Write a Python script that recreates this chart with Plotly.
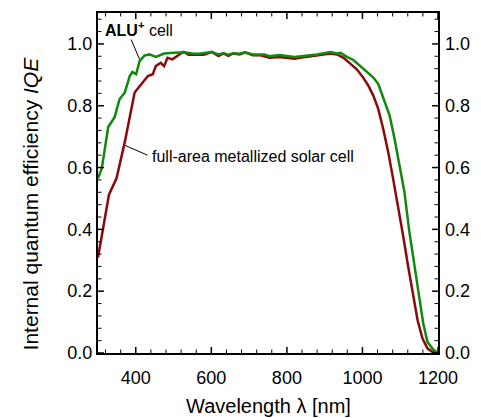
import plotly.graph_objects as go

# ALU+ cell (green)
alu_wl = [300, 310, 327, 344, 357, 371, 384, 391, 401, 410, 423, 436, 453, 475, 501, 527,
          550, 567, 601, 619, 632, 645, 658, 675, 689, 710, 740, 754, 780, 820, 850, 880,
          915, 933, 942, 959, 976, 994, 1011, 1029, 1042, 1055, 1072, 1085, 1098, 1111,
          1124, 1137, 1150, 1161, 1172, 1185, 1198]
alu_iqe = [0.565, 0.597, 0.731, 0.763, 0.821, 0.843, 0.896, 0.909, 0.902, 0.944, 0.962, 0.966,
           0.958, 0.969, 0.971, 0.973, 0.969, 0.968, 0.974, 0.966, 0.970, 0.965, 0.970, 0.968,
           0.973, 0.966, 0.966, 0.960, 0.964, 0.958, 0.962, 0.966, 0.974, 0.969, 0.971, 0.958,
           0.948, 0.928, 0.912, 0.891, 0.870, 0.827, 0.768, 0.693, 0.608, 0.522, 0.394, 0.287,
           0.180, 0.095, 0.036, 0.015, 0.001]

# full-area metallized solar cell (dark red)
full_wl = [300, 329, 349, 371, 397, 418, 432, 445, 453, 466, 475, 484, 497, 519, 527, 540,
           560, 580, 601, 619, 632, 645, 658, 675, 689, 710, 730, 754, 780, 820, 850, 880,
           915, 933, 950, 967, 985, 1002, 1016, 1029, 1042, 1055, 1068, 1081, 1094, 1107,
           1120, 1133, 1146, 1159, 1172, 1185, 1198]
full_iqe = [0.309, 0.512, 0.565, 0.683, 0.843, 0.875, 0.896, 0.902, 0.928, 0.939, 0.928, 0.955,
            0.950, 0.969, 0.974, 0.965, 0.965, 0.965, 0.974, 0.961, 0.969, 0.961, 0.969, 0.966,
            0.973, 0.963, 0.963, 0.955, 0.958, 0.952, 0.958, 0.962, 0.969, 0.966, 0.955, 0.937,
            0.918, 0.891, 0.864, 0.832, 0.789, 0.725, 0.651, 0.565, 0.480, 0.384, 0.287, 0.191,
            0.106, 0.047, 0.015, 0.004, 0.0]

x_ticks = [400, 600, 800, 1000, 1200]
y_ticks = [0.0, 0.2, 0.4, 0.6, 0.8, 1.0]
y_tick_text = ["0.0", "0.2", "0.4", "0.6", "0.8", "1.0"]
x_minor = [v for v in range(320, 1200, 40) if v % 200 != 0]
y_minor = [round(i * 0.04, 2) for i in range(1, 28) if i % 5 != 0]

X_RANGE = [300, 1200]
Y_RANGE = [0, 1.1]

GREEN = "#0f8a0f"
RED = "#8a0a0a"
FONT = "Liberation Sans, Arial, sans-serif"

W, H = 481, 418
M = dict(l=98, r=39, t=11, b=65)
# data units per screen pixel (for tick lengths)
ux = (X_RANGE[1] - X_RANGE[0]) / (W - M["l"] - M["r"])
uy = (Y_RANGE[1] - Y_RANGE[0]) / (H - M["t"] - M["b"])

fig = go.Figure()
fig.add_trace(go.Scatter(x=full_wl, y=full_iqe, mode="lines",
                         line=dict(color=RED, width=2.5), showlegend=False))
fig.add_trace(go.Scatter(x=alu_wl, y=alu_iqe, mode="lines",
                         line=dict(color=GREEN, width=2.5), showlegend=False))
# same series attached to the right-hand axis (transparent) so that axis is drawn
fig.add_trace(go.Scatter(x=alu_wl, y=alu_iqe, mode="lines", yaxis="y2",
                         line=dict(color="rgba(0,0,0,0)", width=0), showlegend=False,
                         hoverinfo="skip"))

fig.update_layout(
    width=W, height=H,
    margin=M,
    plot_bgcolor="white", paper_bgcolor="white",
    font=dict(family=FONT, color="black", size=18),
    xaxis=dict(range=X_RANGE, tickvals=x_ticks, ticklabelstandoff=7,
               showline=True, linecolor="black", linewidth=2, mirror=True,
               ticks="", showgrid=False, zeroline=False),
    yaxis=dict(range=Y_RANGE, tickvals=y_ticks, ticktext=y_tick_text,
               showline=True, linecolor="black", linewidth=2, mirror=True,
               ticks="", showgrid=False, zeroline=False),
    yaxis2=dict(range=Y_RANGE, tickvals=y_ticks, ticktext=y_tick_text,
                overlaying="y", side="right", anchor="x", ticklabelstandoff=6,
                showline=False, ticks="", showgrid=False, zeroline=False),
)

# inside tick marks on all four sides, in data coordinates at the tick values
def x_tick(v, length, width):
    for base, sign in ((Y_RANGE[0], 1), (Y_RANGE[1], -1)):
        fig.add_shape(type="line", xref="x", yref="y", x0=v, x1=v,
                      y0=base, y1=base + sign * length * uy,
                      line=dict(color="black", width=width))

def y_tick(v, length, width):
    for base, sign in ((X_RANGE[0], 1), (X_RANGE[1], -1)):
        fig.add_shape(type="line", xref="x", yref="y", y0=v, y1=v,
                      x0=base, x1=base + sign * length * ux,
                      line=dict(color="black", width=width))

for v in x_ticks:
    x_tick(v, 6, 1.5)
for v in x_minor:
    x_tick(v, 3.5, 1)
for v in y_ticks:
    y_tick(v, 6, 1.5)
for v in y_minor:
    y_tick(v, 3.5, 1)

fig.add_annotation(text="Wavelength λ [nm]", xref="paper", yref="paper",
                   x=0.5, y=-0.155, yanchor="middle", showarrow=False,
                   font=dict(family=FONT, size=20, color="black"))
fig.add_annotation(text="Internal quantum efficiency <i>IQE</i>", xref="paper", yref="paper",
                   x=-0.2, y=0.44, textangle=-90, xanchor="center", yanchor="middle",
                   showarrow=False, font=dict(family=FONT, size=21, color="black"))

fig.add_annotation(text="<b>ALU<sup>+</sup></b> cell", x=314, y=1.047, xanchor="left",
                   yanchor="middle", showarrow=False,
                   font=dict(family=FONT, size=16, color="black"))
fig.add_annotation(text="full-area metallized solar cell", x=437, y=0.635, xanchor="left",
                   yanchor="middle", showarrow=False,
                   font=dict(family=FONT, size=16, color="black"))

fig.add_shape(type="line", x0=388, y0=1.014, x1=410, y1=0.950,
              line=dict(color="black", width=1))
fig.add_shape(type="line", x0=371, y0=0.672, x1=431, y1=0.640,
              line=dict(color="black", width=1))

fig.write_html("out.html", config={"displayModeBar": False},
               post_script="document.body.style.margin='0';")
